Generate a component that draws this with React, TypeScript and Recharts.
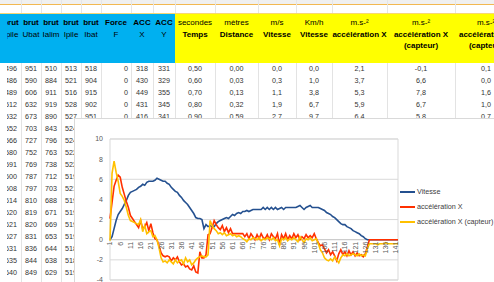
import React from "react";
import { LineChart, Line, XAxis, YAxis, CartesianGrid, ReferenceLine, ReferenceArea } from "recharts";

// ---------- chart data ----------
const vitesse = [
  0, 0.3, 1.1, 1.9, 2.5, 2.8, 3.1, 3.5, 3.9, 4.4,
  4.7, 4.8, 4.9, 5.0, 5.2, 5.3, 5.5, 5.4, 5.7, 5.8,
  5.8, 5.8, 5.9, 6.1, 6.0, 5.9, 5.8, 5.8, 5.6, 5.5,
  5.2, 5.0, 4.8, 4.7, 4.4, 4.2, 3.9, 3.7, 3.5, 3.2,
  2.9, 2.6, 2.2, 2.1, 2.1, 2.0, 1.1, 1.5, 1.3, 1.4,
  1.3, 1.3, 1.6, 1.8, 1.9, 2.0, 2.1, 2.2, 2.1, 2.3,
  2.5, 2.4, 2.6, 2.7, 2.6, 2.8, 2.8, 2.9, 2.8, 2.9,
  3.0, 3.0, 3.0, 3.0, 3.0, 3.2, 3.0, 3.2, 3.0, 3.2,
  3.0, 3.2, 3.0, 3.1, 3.2, 3.0, 3.2, 3.2, 3.2, 3.2,
  3.2, 3.2, 3.3, 3.4, 3.2, 3.0, 3.2, 3.3, 3.4, 3.2,
  3.2, 3.2, 3.2, 3.1, 3.0, 2.9, 2.7, 2.6, 2.5, 2.3,
  2.2, 2.0, 1.8, 1.6, 1.5, 1.5, 1.3, 1.2, 1.1, 0.9,
  0.8, 0.7, 0.6, 0.4, 0.3, 0.1, 0, 0, 0, 0,
  0, 0, 0, 0, 0, 0, 0, 0, 0, 0, 0, 0,
];
const accelerationX = [
  2.1, 3.7, 5.3, 5.9, 6.4, 6.2, 5.2, 4.5, 3.8, 3.2,
  2.4, 2.1, 1.8, 1.5, 1.2, 1.9, 1.1, 1.3, 1.7, 0.9,
  1.6, 0.7, 0.1, 0.0, -0.6, -1.3, -1.6, -1.7, -1.6, -1.7,
  -2.1, -1.8, -2.0, -1.7, -2.2, -2.5, -2.4, -2.7, -2.6, -2.9,
  -3.0, -2.6, -3.2, -3.3, -1.2, -1.8, -1.8, -1.5, 0.5, 0.6,
  1.2, 1.9, 1.5, 1.2, 1.0, 1.4, 0.8, 1.2, 0.7, 1.1,
  0.6, 0.6, 0.6, 0.6, 0.6, 0.6, 0.3, 0.6, 0.1, 0.6,
  0.3, 0.0, 0.5, 0.1, 0.6, 0.2, 0.1, 0.5, 0.0, 0.6,
  0.3, 0.1, 0.6, -0.5, 0.5, 0.1, 0.6, 0.0, 0.4, 0.1,
  0.6, 0.2, 0.5, 0.0, 0.3, 0.1, 0.5, 0.2, 0.4, 0.2,
  0.6, 0.1, -0.3, -0.6, -0.5, -0.9, -1.3, -1.0, -1.5, -1.2,
  -1.6, -2.1, -1.4, -1.0, -1.5, -1.2, -1.6, -1.1, -1.5, -1.2,
  -1.6, -1.3, -1.6, -1.5, -1.7, -1.4, -0.7, 0, 0, 0,
  0, 0, 0, 0, 0, 0, 0, 0, 0, 0, 0, 0,
];
const accelerationXCapteur = [
  -0.1, 6.6, 7.8, 6.7, 5.8, 4.6, 4.3, 3.9, 3.2, 2.4,
  1.9, 1.8, 1.7, 1.6, 1.5, 2.0, 0.8, 1.4, 0.6, 0.8,
  0.9, 0.3, 0.4, 0.0, -0.8, -1.8, -2.2, -2.1, -2.3, -2.0,
  -2.2, -2.4, -2.0, -2.3, -2.1, -2.0, -2.4, -1.8, -2.2, -2.0,
  -2.5, -2.3, -2.0, -1.8, -1.7, -1.6, -1.7, -1.7, -1.5, 1.9,
  1.4, 1.1, 0.9, 0.6, 0.7, 0.5, 0.7, 0.4, 0.5, 0.6,
  0.4, 0.5, 0.3, 0.4, 0.3, 0.1, 0.0, -0.2, 0.1, 0.0,
  0.2, 0.1, 0.0, 0.2, -0.1, 0.1, 0.0, 0.2, 0.1, 0.0,
  0.2, -0.1, 0.0, -0.6, 0.1, 0.0, 0.2, -0.1, 0.1, 0.0,
  0.2, 0.0, -0.2, 0.3, 0.0, -0.3, 0.1, 0.0, 0.2, -0.1,
  0.0, 0.1, -0.4, -1.0, -1.3, -1.8, -2.0, -2.1, -1.9, -2.1,
  -1.7, -2.0, -2.3, -1.8, -1.5, -1.6, -1.4, -1.6, -1.5, -1.4,
  -1.5, -1.6, -1.4, -1.6, -1.5, -1.6, -0.9, -0.4, -0.4, -0.4,
  -0.4, -0.5, -0.4, -0.4, -0.4, -0.3, -0.4, -0.4, -0.4, -0.4, -0.4, -0.4,
];
const categories = vitesse.map((_, i) => String(i + 1));
const yTicks = [-4, -2, 0, 2, 4, 6, 8, 10];
const seriesNames = ["Vitesse", "accélération X", "accélération X (capteur)"];
const seriesColors = ["#24508F", "#FF3000", "#FFC000"];

// ---------- spreadsheet text ----------
const headLine1 = ["brut", "brut", "brut", "brut", "brut", "Force", "ACC", "ACC", "secondes", "mètres", "m/s", "Km/h", "m.s-²", "m.s-²", "m.s-²"];
const headLine2 = ["Ipile", "Ubat", "Ialim", "Ipile", "Ibat", "F", "X", "Y", "Temps", "Distance", "Vitesse", "Vitesse", "accélération X", "accélération X", "accélération Y"];
const headLine3 = ["", "", "", "", "", "", "", "", "", "", "", "", "", "(capteur)", "(capteur)"];
const rawRows = [
  ["496", "951", "510", "513", "518", "0", "318", "331"],
  ["486", "590", "884", "521", "904", "0", "430", "329"],
  ["489", "606", "911", "516", "915", "0", "449", "355"],
  ["512", "632", "919", "528", "902", "0", "431", "345"],
  ["532", "673", "890", "527", "951", "0", "416", "341"],
  ["552", "703", "843", "524"],
  ["566", "727", "796", "524"],
  ["580", "752", "763", "522"],
  ["591", "769", "738", "522"],
  ["600", "787", "712", "519"],
  ["608", "797", "703", "521"],
  ["614", "810", "688", "519"],
  ["620", "819", "671", "519"],
  ["621", "820", "669", "519"],
  ["627", "831", "653", "519"],
  ["631", "836", "644", "518"],
  ["635", "844", "638", "518"],
  ["640", "849", "629", "519"],
];
const calcRows = [
  ["0,50", "0,00", "0,0", "0,0", "2,1", "-0,1", "0,1"],
  ["0,60", "0,03", "0,3", "1,0", "3,7", "6,6", "0,0"],
  ["0,70", "0,13", "1,1", "3,8", "5,3", "7,8", "1,6"],
  ["0,80", "0,32", "1,9", "6,7", "5,9", "6,7", "1,0"],
  ["0,90", "0,59", "2,7", "9,7", "6,4", "5,8", "0,7"],
];

// ---------- layout ----------
const FONT = "'Liberation Sans', Arial, sans-serif";
const COLS = [
  { x: 1, w: 20 }, { x: 21, w: 20 }, { x: 41, w: 20 }, { x: 61, w: 20 }, { x: 81, w: 20 },
  { x: 101, w: 30 }, { x: 131, w: 22 }, { x: 153, w: 22 },
  { x: 175, w: 40 }, { x: 215, w: 43 }, { x: 258, w: 38 }, { x: 296, w: 36 },
  { x: 332, w: 55 }, { x: 387, w: 68 }, { x: 455, w: 62 },
];
const CLIP_X = 7;
const HEADER_TOP = 14;
const HEADER_H = 49;
const ROW_TOP = 63;
const ROW_H = 12;

const CHART_LEFT = 74;
const CHART_TOP = 118;
const CHART_W = 420;
const CHART_H = 176;
const X_AXIS_H = 12;
const MARGIN = { top: 20, right: 97, bottom: 3, left: 0 };
const Y_MIN = -4;
const Y_MAX = 10;
const PLOT_H = CHART_H - MARGIN.top - MARGIN.bottom - X_AXIS_H;

const chartData = categories.map((c, i) => ({
  c,
  v: vitesse[i],
  a: accelerationX[i],
  k: accelerationXCapteur[i],
}));

function XTick(props: any) {
  const { x, y, payload } = props;
  const y0 = Number(y) - (PLOT_H * (0 - Y_MIN)) / (Y_MAX - Y_MIN) + 2;
  return (
    <text
      x={x}
      y={y0}
      transform={`rotate(-90 ${x} ${y0})`}
      textAnchor="end"
      dominantBaseline="central"
      fontSize={7}
      fill="#595959"
      fontFamily={FONT}
    >
      {payload.value}
    </text>
  );
}

function cellBox(ci: number, top: number, height: number, extra: React.CSSProperties, content: React.ReactNode, key: string) {
  const c = COLS[ci];
  if (ci === 0) {
    return (
      <div key={key} style={{ position: "absolute", left: CLIP_X, top, width: c.x + c.w - CLIP_X, height, overflow: "hidden" }}>
        <div style={{ position: "absolute", left: c.x - CLIP_X, top: 0, width: c.w, height, ...extra }}>{content}</div>
      </div>
    );
  }
  return (
    <div key={key} style={{ position: "absolute", left: c.x, top, width: c.w, height, ...extra }}>
      {content}
    </div>
  );
}

function Sheet() {
  const cells: React.ReactNode[] = [];
  cells.push(<div key="hb" style={{ position: "absolute", left: 0, top: HEADER_TOP, width: 175, height: HEADER_H, background: "#00B0F0" }} />);
  cells.push(<div key="hy" style={{ position: "absolute", left: 175, top: HEADER_TOP, width: 319, height: HEADER_H, background: "#FFFF00" }} />);
  COLS.forEach((c, ci) => {
    const blue = ci < 8;
    cells.push(
      cellBox(
        ci,
        HEADER_TOP,
        HEADER_H,
        { textAlign: "center", fontSize: 8, lineHeight: "11.5px", paddingTop: 3, boxSizing: "border-box", whiteSpace: "nowrap", color: "#000" },
        <>
          <div style={{ fontWeight: blue ? 700 : 400 }}>{headLine1[ci]}</div>
          <div style={{ fontWeight: blue ? 400 : 700 }}>{headLine2[ci]}</div>
          <div style={{ fontWeight: 700 }}>{headLine3[ci]}</div>
        </>,
        "h" + ci
      )
    );
    cells.push(
      <div key={"g" + ci} style={{ position: "absolute", left: c.x + c.w, top: ROW_TOP, width: 1, height: 282 - ROW_TOP, background: "#E3E3E3" }} />
    );
    cells.push(
      <div key={"t" + ci} style={{ position: "absolute", left: c.x + c.w, top: 0, width: 1, height: 13, background: "#E6E6E6" }} />
    );
  });
  rawRows.forEach((r, ri) => {
    const vals = ri < calcRows.length ? [...r, ...calcRows[ri]] : r;
    vals.forEach((v, ci) => {
      const right = ci === 5;
      cells.push(
        cellBox(
          ci,
          ROW_TOP + ri * ROW_H,
          ROW_H,
          {
            lineHeight: ROW_H + "px",
            textAlign: right ? "right" : "center",
            paddingRight: right ? 3 : 0,
            boxSizing: "border-box",
            fontSize: 7.2,
            color: "#333",
            whiteSpace: "nowrap",
          },
          v,
          "d" + ri + "_" + ci
        )
      );
    });
  });
  return (
    <>
      <div style={{ position: "absolute", left: 0, top: 0, width: 494, height: 4, background: "#F0F0F0" }} />
      <div style={{ position: "absolute", left: 0, top: 4, width: 494, height: 1, background: "#F2B851" }} />
      <div style={{ position: "absolute", left: 0, top: 13, width: 494, height: 1, background: "#F7D774" }} />
      {cells}
    </>
  );
}

function ChartLegend() {
  return (
    <div style={{ position: "absolute", left: 400, top: 184, fontSize: 7.2, color: "#404040", whiteSpace: "nowrap" }}>
      {seriesNames.map((n, i) => (
        <div key={n} style={{ display: "flex", alignItems: "center", height: 15 }}>
          <div style={{ width: 15, height: 2, background: seriesColors[i], marginRight: 2 }} />
          <span>{n}</span>
        </div>
      ))}
    </div>
  );
}

export default function App() {
  return (
    <div
      style={{
        position: "fixed",
        left: 0,
        top: 0,
        width: 494,
        height: 282,
        overflow: "hidden",
        background: "#fff",
        fontFamily: FONT,
      }}
    >
      <Sheet />
      <div
        style={{
          position: "absolute",
          left: CHART_LEFT,
          top: CHART_TOP,
          width: CHART_W + 10,
          height: CHART_H + 10,
          background: "#fff",
          borderLeft: "1px solid #D9D9D9",
          borderTop: "1px solid #D9D9D9",
        }}
      >
        <LineChart width={CHART_W} height={CHART_H} data={chartData} margin={MARGIN}>
          <CartesianGrid vertical={false} stroke="#D9D9D9" />
          <ReferenceArea y1={Y_MIN} y2={Y_MAX} fill="none" stroke="#D9D9D9" />
          <YAxis
            domain={[Y_MIN, Y_MAX]}
            ticks={yTicks}
            width={35}
            axisLine={false}
            tickLine={false}
            tickSize={0}
            tickMargin={7}
            tick={{ fontSize: 7, fill: "#595959", fontFamily: FONT }}
            allowDataOverflow
          />
          <XAxis
            dataKey="c"
            height={X_AXIS_H}
            interval={4}
            axisLine={false}
            tickLine={false}
            tickSize={0}
            tickMargin={0}
            tick={(p: any) => <XTick {...p} />}
          />
          <ReferenceLine y={0} stroke="#BFBFBF" />
          <Line dataKey="v" name={seriesNames[0]} stroke={seriesColors[0]} strokeWidth={1.6} dot={false} isAnimationActive={false} />
          <Line dataKey="a" name={seriesNames[1]} stroke={seriesColors[1]} strokeWidth={1.6} dot={false} isAnimationActive={false} />
          <Line dataKey="k" name={seriesNames[2]} stroke={seriesColors[2]} strokeWidth={1.6} dot={false} isAnimationActive={false} />
        </LineChart>
      </div>
      <ChartLegend />
    </div>
  );
}
